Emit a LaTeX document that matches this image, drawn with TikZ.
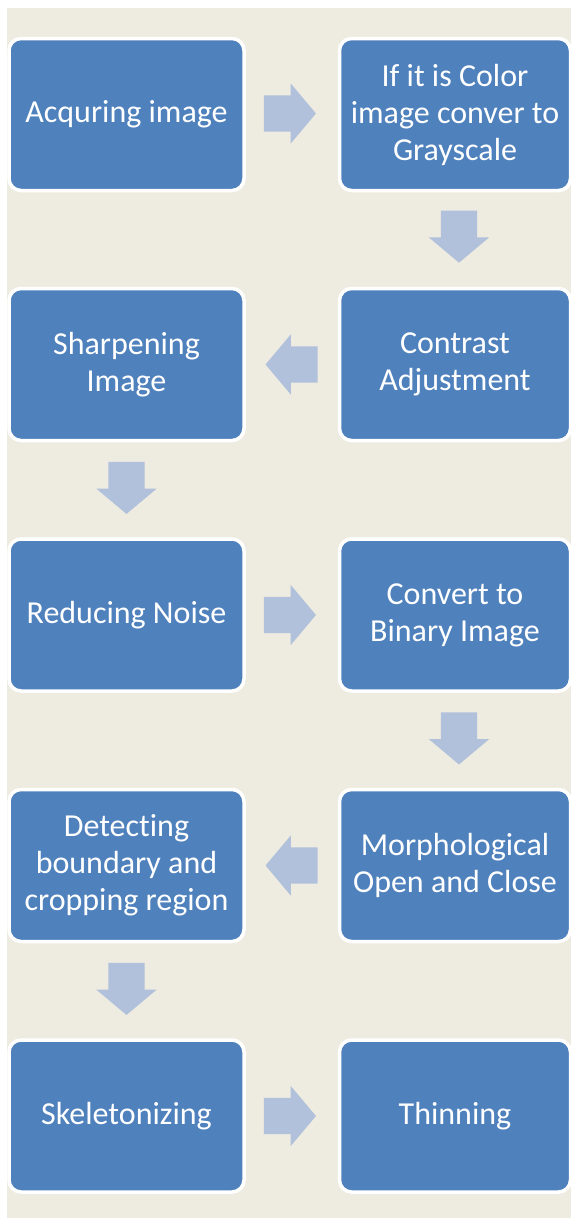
\documentclass[tikz,border=0pt]{standalone}
\usepackage{fontspec}
\setmainfont{Carlito}[Ligatures=NoCommon]
\usetikzlibrary{positioning,shapes.arrows,calc}
\definecolor{stepblue}{HTML}{4F81BD}
\definecolor{arrowblue}{HTML}{B1C1DC}
\definecolor{paper}{HTML}{EEEBE0}
\tikzset{
  stepbox/.style={rectangle, rounded corners=12pt, fill=stepblue, draw=white,
    line width=3.5pt, minimum width=235pt, minimum height=152pt,
    text=white, align=center, font=\fontsize{32}{37}\selectfont},
  flowarrow/.style={single arrow, fill=arrowblue, draw=none, inner xsep=0pt,
    inner ysep=18pt, single arrow head extend=12pt, single arrow tip angle=100,
    minimum height=52pt, anchor=tail}
}
\begin{document}
\begin{tikzpicture}[x=1pt,y=-1pt]
    \useasboundingbox (0,0) rectangle (571,1218);
    \clip (0,0) rectangle (571,1218);
    \fill[paper] (7,8) rectangle (571,1218);
    % left column
    \node[stepbox] (acquire) at (126.5,114.5) {Acquring image};
    \node[stepbox] (sharpen) at (126.5,364.5) {Sharpening\\Image};
    \node[stepbox] (noise) at (126.5,615) {Reducing Noise};
    \node[stepbox] (detect) at (126.5,865.5) {Detecting\\boundary and\\cropping region};
    \node[stepbox] (skeleton) at (126.5,1116) {Skeletonizing};
    % right column
    \node[stepbox, minimum width=231pt] (gray) at (455,114.5) {If it is Color\\image conver to\\Grayscale};
    \node[stepbox, minimum width=231pt] (contrast) at (455,364.5) {Contrast\\Adjustment};
    \node[stepbox, minimum width=231pt] (binary) at (455,615) {Convert to\\Binary Image};
    \node[stepbox, minimum width=231pt] (morph) at (455,865.5) {Morphological\\Open and Close};
    \node[stepbox, minimum width=231pt] (thin) at (455,1116) {Thinning};
    % block arrows, tail placed half a length before the midpoint
    \node[flowarrow] (ar1) at ($(acquire)!0.5!(gray)+(-27,-1)$) {};
    \node[flowarrow, rotate=-90] (ar2) at ($(gray)!0.5!(contrast)+(4,-29)$) {};
    \node[flowarrow, rotate=180] (ar3) at ($(contrast)!0.5!(sharpen)+(27,0)$) {};
    \node[flowarrow, rotate=-90] (ar4) at ($(sharpen)!0.5!(noise)+(0,-28)$) {};
    \node[flowarrow] (ar5) at ($(noise)!0.5!(binary)+(-27,0)$) {};
    \node[flowarrow, rotate=-90] (ar6) at ($(binary)!0.5!(morph)+(4,-28)$) {};
    \node[flowarrow, rotate=180] (ar7) at ($(morph)!0.5!(detect)+(27,0)$) {};
    \node[flowarrow, rotate=-90] (ar8) at ($(detect)!0.5!(skeleton)+(0,-28)$) {};
    \node[flowarrow] (ar9) at ($(skeleton)!0.5!(thin)+(-27,0)$) {};
\end{tikzpicture}
\end{document}
